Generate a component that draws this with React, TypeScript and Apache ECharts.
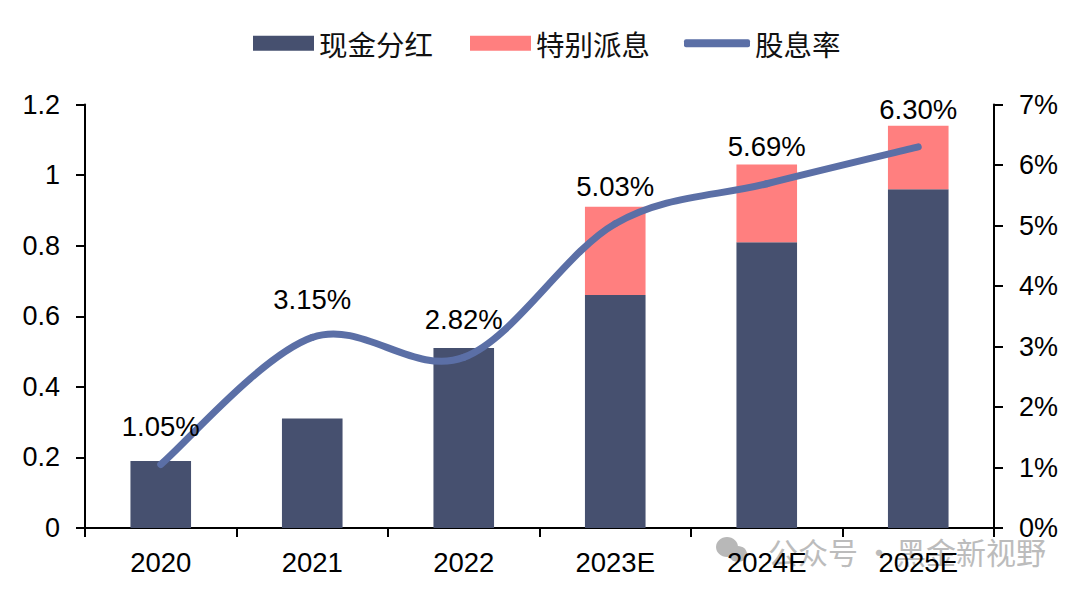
import React, { useEffect, useRef } from "react";
import * as echarts from "echarts";

const categories = ["2020", "2021", "2022", "2023E", "2024E", "2025E"];
const cashDividend = [0.19, 0.31, 0.51, 0.66, 0.81, 0.96];
const specialDividend = [null, null, null, 0.25, 0.22, 0.18];
const dividendYield = [1.05, 3.15, 2.82, 5.03, 5.69, 6.3];
const leftTicks = { min: 0, max: 1.2, interval: 0.2 };
const rightTicks = { min: 0, max: 7, interval: 1 };

const FONT = '"Liberation Sans", Arial, sans-serif';
const CJK = '"Noto Sans CJK SC", "Liberation Sans", sans-serif';
const LINE_COLOR = "#5B6FA6";

export default function App() {
  const ref = useRef<HTMLDivElement>(null);
  useEffect(() => {
    const chart = echarts.init(ref.current!, null, { renderer: "svg" });
    const axisLine = { show: true, lineStyle: { color: "#000", width: 2 } };
    const axisTick = { show: true, length: 9, lineStyle: { color: "#000", width: 2 } };
    const legendText = { fontFamily: CJK, fontSize: 28.5, color: "#111" };
    chart.setOption({
      animation: false,
      backgroundColor: "#fff",
      grid: { left: 85, right: 86, top: 104.5, bottom: 70, containLabel: false },
      legend: [
        { left: 248, top: 24, itemWidth: 61, itemHeight: 15, textStyle: legendText, data: [{ name: "现金分红", icon: "rect" }] },
        { left: 465, top: 24, itemWidth: 61, itemHeight: 15, textStyle: legendText, data: [{ name: "特别派息", icon: "rect" }] },
        { left: 679, top: 24, itemWidth: 66, itemHeight: 8, textStyle: legendText, data: [{ name: "股息率", icon: "roundRect" }] },
      ],
      xAxis: {
        type: "category",
        data: categories,
        axisLine,
        axisTick,
        axisLabel: { fontFamily: FONT, fontSize: 27.5, color: "#000", margin: 20, interval: 0 },
      },
      yAxis: [
        {
          type: "value",
          ...leftTicks,
          axisLine,
          splitLine: { show: false },
          axisTick,
          axisLabel: { fontFamily: FONT, fontSize: 27, color: "#000", margin: 25, formatter: (v: number) => String(+v.toFixed(1)) },
        },
        {
          type: "value",
          position: "right",
          ...rightTicks,
          axisLine,
          splitLine: { show: false },
          axisTick,
          axisLabel: { fontFamily: FONT, fontSize: 27, color: "#000", margin: 25, formatter: "{value}%" },
        },
      ],
      series: [
        { name: "现金分红", type: "bar", stack: "d", barWidth: "40%", data: cashDividend, itemStyle: { color: "#46506F" } },
        { name: "特别派息", type: "bar", stack: "d", barWidth: "40%", data: specialDividend, itemStyle: { color: "#FF7F7F" } },
        {
          name: "股息率",
          type: "custom",
          yAxisIndex: 1,
          clip: false,
          z: 5,
          itemStyle: { color: LINE_COLOR },
          data: dividendYield.map((v, i) => [i, v]),
          encode: { x: 0, y: 1 },
          renderItem: (params: any, api: any) => {
            const i = params.dataIndex;
            const n = dividendYield.length;
            const pt = (k: number) => {
              const j = Math.max(0, Math.min(n - 1, k));
              return api.coord([j, dividendYield[j]]);
            };
            const p1 = pt(i);
            const children: any[] = [
              {
                type: "text",
                x: p1[0],
                y: p1[1] - 37.5,
                style: {
                  text: dividendYield[i].toFixed(2) + "%",
                  font: `27.5px ${FONT}`,
                  fill: "#000",
                  align: "center",
                  verticalAlign: "middle",
                },
              },
            ];
            if (i < n - 1) {
              const p0 = pt(i - 1);
              const p2 = pt(i + 1);
              const p3 = pt(i + 2);
              const c1 = [p1[0] + (p2[0] - p0[0]) / 6, p1[1] + (p2[1] - p0[1]) / 6];
              const c2 = [p2[0] - (p3[0] - p1[0]) / 6, p2[1] - (p3[1] - p1[1]) / 6];
              children.unshift({
                type: "path",
                shape: { pathData: `M${p1[0]} ${p1[1]}C${c1[0]} ${c1[1]} ${c2[0]} ${c2[1]} ${p2[0]} ${p2[1]}` },
                style: { fill: "none", stroke: LINE_COLOR, lineWidth: 7, lineCap: "round" },
              });
            }
            return { type: "group", children };
          },
        },
      ],
      graphic: [
        { type: "ellipse", z: -1, shape: { cx: 727, cy: 547, rx: 11, ry: 10 }, style: { fill: "#b8b8b8" } },
        { type: "ellipse", z: -1, shape: { cx: 738, cy: 554, rx: 9, ry: 8 }, style: { fill: "#b8b8b8" } },
        { type: "text", z: -1, x: 768, y: 536, style: { text: "公众号", font: `30px ${CJK}`, fill: "#bcbcbc" } },
        { type: "text", z: -1, x: 864, y: 536, style: { text: "·", font: `30px ${CJK}`, fill: "#bcbcbc" } },
        { type: "text", z: -1, x: 896, y: 536, style: { text: "黑金新视野", font: `30px ${CJK}`, fill: "#bcbcbc" } },
      ],
    });
    return () => chart.dispose();
  }, []);
  return <div ref={ref} style={{ position: "fixed", left: 0, top: 0, width: 1080, height: 598 }} />;
}
